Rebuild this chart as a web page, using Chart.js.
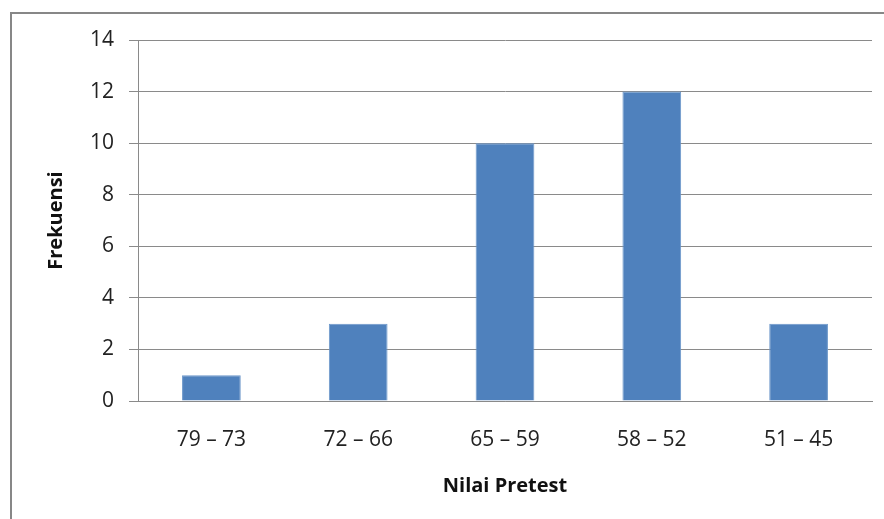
<!DOCTYPE html>
<html>
<head>
<meta charset="utf-8">
<script src="https://cdn.jsdelivr.net/npm/chart.js@4/dist/chart.umd.min.js"></script>
<style>
  body { margin: 0; background: #fff; }
  canvas { display: block; }
</style>
</head>
<body>
<canvas id="myChart" width="884" height="519"></canvas>
<script>
const categories = ['79 – 73', '72 – 66', '65 – 59', '58 – 52', '51 – 45'];
const frekuensi = [1, 3, 10, 12, 3];
const yTicks = [0, 2, 4, 6, 8, 10, 12, 14];

const gridGray = '#8a8a8a';
const tickFont = { family: '"Open Sans", sans-serif', size: 21 };
const titleFont = { family: '"Open Sans", sans-serif', size: 20, weight: 'bold' };

// outer frame of the chart object
const frame = {
    id: 'frame',
    afterDraw(chart) {
        const c = chart.ctx;
        c.save();
        c.strokeStyle = '#878787';
        c.lineWidth = 2;
        c.strokeRect(11, 13, 900, 540);
        c.restore();
    }
};

const ctx = document.getElementById('myChart').getContext('2d');

new Chart(ctx, {
    type: 'bar',
    data: {
        labels: categories,
        datasets: [{
            label: 'Frekuensi',
            data: frekuensi,
            backgroundColor: '#4f81bd',
            borderColor: '#6c97ca',
            borderWidth: 1,
            categoryPercentage: 1,
            barPercentage: 0.4,
        }]
    },
    options: {
        responsive: false,
        animation: false,
        layout: {
            padding: { top: 40, right: 12, left: 0, bottom: 0 }
        },
        plugins: {
            legend: { display: false },
            tooltip: { enabled: false }
        },
        scales: {
            x: {
                grid: { display: false },
                border: { display: true, color: gridGray, width: 1 },
                ticks: { color: '#222', font: tickFont, padding: 18 },
                title: {
                    display: true,
                    text: 'Nilai Pretest',
                    color: '#111',
                    font: titleFont,
                    padding: { top: 0, bottom: 21 }
                },
                afterFit: (scale) => { scale.height = 118; }
            },
            y: {
                min: 0,
                max: 14,
                afterBuildTicks: (scale) => {
                    scale.ticks = yTicks.map(v => ({ value: v }));
                },
                grid: { color: gridGray, lineWidth: 1, tickLength: 9, drawTicks: true },
                border: { display: true, color: gridGray, width: 1 },
                ticks: { color: '#222', font: tickFont, padding: 15 },
                title: {
                    display: true,
                    text: 'Frekuensi',
                    color: '#111',
                    font: titleFont,
                    padding: { top: 44, bottom: 0 }
                },
                afterFit: (scale) => { scale.width = 138; }
            }
        }
    },
    plugins: [frame]
});
</script>
</body>
</html>
